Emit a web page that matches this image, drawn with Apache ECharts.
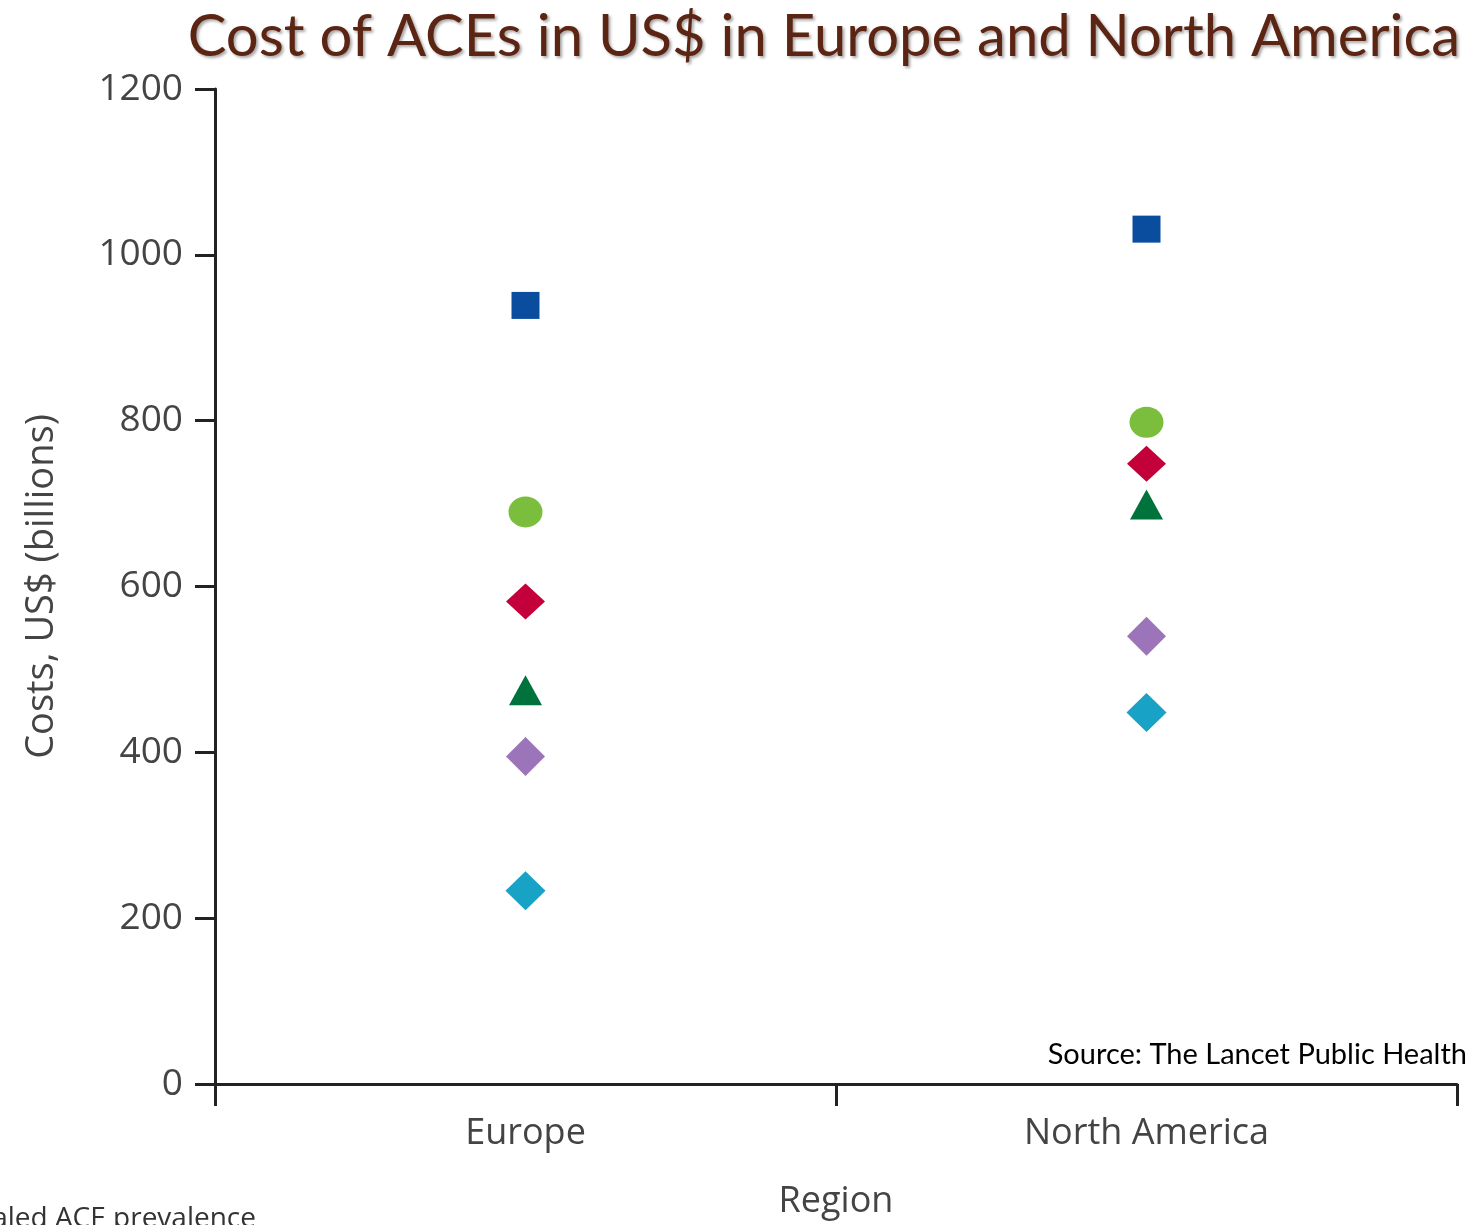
<!DOCTYPE html>
<html>
<head>
<meta charset="utf-8">
<title>Cost of ACEs in US$ in Europe and North America</title>
<script src="https://cdn.jsdelivr.net/npm/echarts@6/dist/echarts.min.js"></script>
<style>
  html, body { margin: 0; padding: 0; background: #ffffff; }
  #chart { width: 1481px; height: 1225px; }
</style>
</head>
<body>
<div id="chart"></div>
<script>
// Regions on the category axis
const regions = ['Europe', 'North America'];

// Annual costs (US$ billions) for each region, one array per scenario
const scenarioSquare   = [939, 1031];
const scenarioCircle   = [690, 798];
const scenarioRed      = [582, 748];
const scenarioTriangle = [475, 699];
const scenarioPurple   = [395, 540];
const scenarioCyan     = [233, 448];

// Value axis range and step
const yMin = 0;
const yMax = 1200;
const yStep = 200;

const axisFont = '"Open Sans", "Noto Sans", sans-serif';
const titleFont = 'Lato, "Open Sans", sans-serif';

function scatter(name, values, symbol, size, color) {
  return {
    name: name,
    type: 'scatter',
    data: values,
    symbol: symbol,
    symbolSize: size,
    itemStyle: { color: color, opacity: 1 },
    z: 3
  };
}

const chart = echarts.init(document.getElementById('chart'), null, { renderer: 'canvas' });

chart.setOption({
  backgroundColor: '#ffffff',
  animation: false,
  title: {
    text: 'Cost of ACEs in US$ in Europe and North America',
    right: 16,
    top: 3,
    textStyle: {
      fontFamily: titleFont,
      fontSize: 58,
      fontWeight: 'normal',
      color: '#5c2412',
      textShadowColor: 'rgba(0,0,0,0.35)',
      textShadowBlur: 3,
      textShadowOffsetX: 2,
      textShadowOffsetY: 2
    }
  },
  grid: { left: 215, right: 24, top: 89, bottom: 140, containLabel: false },
  xAxis: {
    type: 'category',
    data: regions,
    boundaryGap: true,
    name: 'Region',
    nameLocation: 'middle',
    nameGap: 100,
    nameTextStyle: { fontFamily: axisFont, fontSize: 36, color: '#444444' },
    axisLine: { show: true, lineStyle: { color: '#222222', width: 3 } },
    axisTick: { show: true, length: 22, lineStyle: { color: '#222222', width: 3 } },
    axisLabel: { fontFamily: axisFont, fontSize: 36, color: '#444444', margin: 32 },
    splitLine: { show: false }
  },
  yAxis: {
    type: 'value',
    min: yMin,
    max: yMax,
    interval: yStep,
    name: 'Costs, US$ (billions)',
    nameLocation: 'middle',
    nameRotate: 90,
    nameGap: 154,
    nameTextStyle: { fontFamily: axisFont, fontSize: 38, color: '#444444' },
    axisLine: { show: true, lineStyle: { color: '#222222', width: 3 } },
    axisTick: { show: true, length: 20, lineStyle: { color: '#222222', width: 3 } },
    axisLabel: {
      fontFamily: axisFont,
      fontSize: 37,
      color: '#444444',
      margin: 32,
      formatter: function (v) { return String(v); }
    },
    splitLine: { show: false }
  },
  series: [
    scatter('Scenario 1', scenarioSquare, 'rect', [28, 27], '#0a4c9e'),
    scatter('Scenario 2', scenarioCircle, 'circle', [34, 31], '#7bbd3d'),
    scatter('Scenario 3', scenarioRed, 'diamond', [39, 36], '#c4003a'),
    scatter('Scenario 4', scenarioTriangle, 'triangle', [33, 30], '#00723b'),
    scatter('Scenario 5', scenarioPurple, 'diamond', [39, 39], '#9b74b9'),
    scatter('Scenario 6', scenarioCyan, 'diamond', [40, 39], '#17a2c6')
  ],
  graphic: [
    {
      type: 'text',
      right: 14,
      top: 1040,
      style: {
        text: 'Source: The Lancet Public Health',
        fontFamily: titleFont,
        fontSize: 29,
        fill: '#000000'
      }
    },
    {
      type: 'text',
      x: 256,
      y: 1205,
      style: {
        text: 'Scaled ACE prevalence',
        align: 'right',
        verticalAlign: 'top',
        fontFamily: axisFont,
        fontSize: 28,
        fill: '#333333'
      }
    }
  ]
});
</script>
</body>
</html>
